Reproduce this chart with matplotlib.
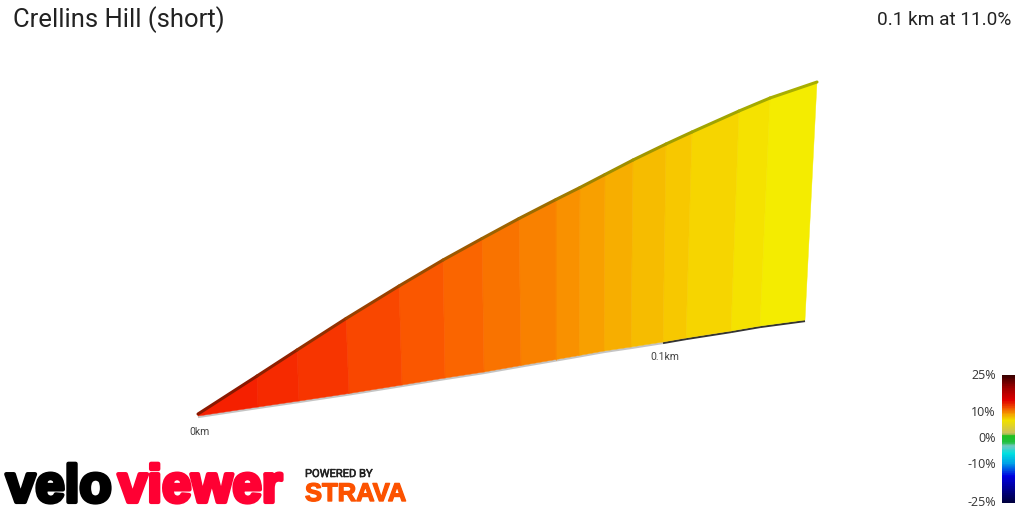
import matplotlib
matplotlib.use("Agg")
import matplotlib.pyplot as plt
import matplotlib.patheffects as pe
from matplotlib.colors import LinearSegmentedColormap
from matplotlib.patches import Polygon
import numpy as np

plt.rcParams['font.family'] = ['Roboto', 'DejaVu Sans']

TITLE = "Crellins Hill (short)"
SUMMARY = "0.1 km at 11.0%"

# segment boundaries as seen on the rendered profile
top_x = [198, 257, 297, 346, 399, 443, 482, 519, 556, 580, 605, 633, 666, 692, 739, 770, 817]
top_y = [414, 376, 350, 318.5, 286, 260, 238.5, 218.5, 199.5, 187.5, 174.5, 160, 144, 132, 111, 98, 82]
base_x = [198, 258, 299, 349, 402, 445, 484, 521, 556, 579, 604, 631, 663, 686, 731, 760, 805]
base_y = [416, 407, 401, 393.5, 385, 378, 372, 365.5, 359.5, 355.5, 351, 347, 342, 338, 331, 326, 320]
seg_colors = ['#f52000', '#f62a00', '#f73500', '#f94700', '#fa5700', '#fa6500', '#f97300', '#f98100',
              '#f99100', '#f8a000', '#f7ae00', '#f6bc00', '#f7c800', '#f6d500', '#f5e200', '#f4ec00']
ridge_colors = ['#8a1800', '#8e2000', '#923000', '#984000', '#9a4c00', '#9c5800', '#9c6200', '#9c6c00',
                '#9e7a00', '#9e8400', '#9e8e00', '#a09600', '#a09e00', '#a0a400', '#a4aa00', '#a8ae00']
KM_SPLIT_INDEX = 12  # base turns dark after the 0.1km mark

cbar_values = [25, 20, 15, 12, 10, 7, 2, 1, -1.5, -3, -6, -10, -15, -25]
cbar_colors = ['#3a0000', '#9e0000', '#e00000', '#f05000', '#f49000', '#f0e000', '#c8c060', '#20c020',
               '#20c040', '#70c8c0', '#00e0e0', '#00a0e8', '#0000e0', '#000040']
cbar_labels = ['25%', '10%', '0%', '-10%', '-25%']
cbar_label_y = [375, 412.5, 438.5, 463.5, 502.5]

fig = plt.figure(figsize=(10.24, 5.12), dpi=100, facecolor='white')
ax = fig.add_axes([0, 0, 1, 1])
ax.set_xlim(0, 1024)
ax.set_ylim(512, 0)
ax.axis('off')

# base strip
for i in range(len(base_x) - 1):
    c = '#c4c4c4' if i < KM_SPLIT_INDEX else '#333333'
    ax.plot(base_x[i:i+2], [y + 1 for y in base_y[i:i+2]], color=c, lw=1.6, solid_capstyle='butt', zorder=1)

# coloured faces
for i, col in enumerate(seg_colors):
    poly = [(top_x[i], top_y[i]), (top_x[i+1], top_y[i+1]), (base_x[i+1], base_y[i+1]), (base_x[i], base_y[i])]
    ax.add_patch(Polygon(poly, closed=True, facecolor=col, edgecolor=col, lw=0.3, zorder=2))
    if 0 < i:
        ax.plot([top_x[i], base_x[i]], [top_y[i], base_y[i]], color=seg_colors[i-1], lw=0.5, alpha=0.7, zorder=2.5)
    ax.plot(top_x[i:i+2], top_y[i:i+2], color=ridge_colors[i], lw=2.2, solid_capstyle='round', zorder=3)

ax.text(189, 432, "0km", fontsize=7.5, color='#444444', ha='left', va='center')
ax.text(650, 357, "0.1km", fontsize=7.5, color='#444444', ha='left', va='center')

ax.text(13, 20, TITLE, fontsize=18.45, color='#222222', ha='left', va='center')
ax.text(1011, 20, SUMMARY, fontsize=13.7, color='#222222', ha='right', va='center')

# colour scale
cmap = LinearSegmentedColormap.from_list('grad', [((v + 25) / 50, c) for v, c in
                                                  sorted(zip(cbar_values, cbar_colors))])
def yscale(v):
    return np.interp(v, [-25, -10, 0, 10, 25], cbar_label_y[::-1])
vals = np.linspace(-25, 25, 200)
edges = yscale(np.linspace(-25, 25, 201))
ax.pcolormesh([1002, 1015], edges, vals[:, None], cmap=cmap, vmin=-25, vmax=25, zorder=2)
for lab, y in zip(cbar_labels, cbar_label_y):
    ax.text(996, y + 0.5, lab, fontsize=9, color='#333333', ha='right', va='center',
            family=['Open Sans', 'DejaVu Sans'])

# logo words
ax.text(6, 502, "velo", fontsize=38, fontweight='bold', color='#000000', ha='left', va='baseline',
        family=['Liberation Sans'], path_effects=[pe.withStroke(linewidth=3, foreground='#000000')])
ax.text(118, 502, "viewer", fontsize=38, fontweight='bold', color='#ff0033', ha='left', va='baseline',
        family=['Liberation Sans'], path_effects=[pe.withStroke(linewidth=3, foreground='#ff0033')])

ax.text(305, 474, "POWERED BY", fontsize=8, color='#222222', ha='left', va='center',
        path_effects=[pe.withStroke(linewidth=0.4, foreground='#222222')])
ax.text(305, 494, "STRAVA", fontsize=18.4, fontweight='bold', color='#fc5200', ha='left', va='center',
        family=['Liberation Sans'], path_effects=[pe.withStroke(linewidth=1, foreground='#fc5200')])

fig.savefig("out.png", dpi=100, facecolor='white')
